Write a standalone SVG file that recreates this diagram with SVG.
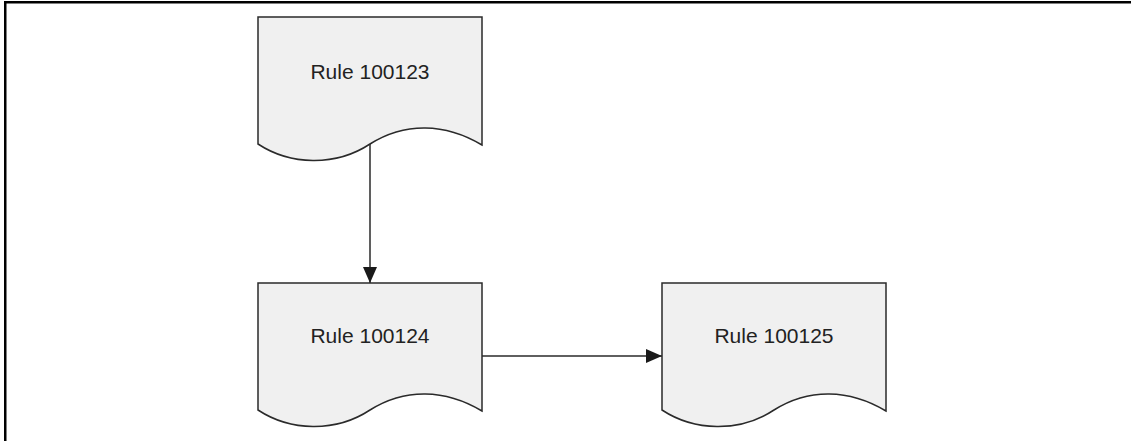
<svg xmlns="http://www.w3.org/2000/svg" width="1131" height="441" viewBox="0 0 1131 441">
<style>
.doc{fill:#f0f0f0;stroke:#2a2a2a;stroke-width:1.5}
.lbl{font-family:"Liberation Sans",Arial,sans-serif;font-size:21px;fill:#222;text-anchor:middle}
.conn{stroke:#2a2a2a;stroke-width:1.5;fill:none}
</style>
<defs>
<marker id="arr" viewBox="0 0 16 14" refX="16" refY="7" markerWidth="16" markerHeight="14" markerUnits="userSpaceOnUse" orient="auto">
<path d="M0,0 L16,7 L0,14 Z" fill="#1a1a1a"/>
</marker>
<path id="docshape" d="M258,17 H482 V145 C445,123 405,122 370,144 C335,167 290,165 258,144 Z"/>
</defs>
<g id="frame">
<rect x="4" y="1" width="1127" height="2.5" fill="#000"/>
<rect x="4" y="1" width="2.5" height="440" fill="#000"/>
</g>
<g id="connectors">
<line class="conn" x1="370" y1="144" x2="370" y2="283" marker-end="url(#arr)"/>
<line class="conn" x1="482" y1="356" x2="662" y2="356" marker-end="url(#arr)"/>
</g>
<g id="node-100123">
<use href="#docshape" class="doc"/>
<text class="lbl" x="370" y="79">Rule 100123</text>
</g>
<g id="node-100124">
<use href="#docshape" class="doc" transform="translate(0,266)"/>
<text class="lbl" x="370" y="343">Rule 100124</text>
</g>
<g id="node-100125">
<use href="#docshape" class="doc" transform="translate(404,266)"/>
<text class="lbl" x="774" y="343">Rule 100125</text>
</g>
</svg>
